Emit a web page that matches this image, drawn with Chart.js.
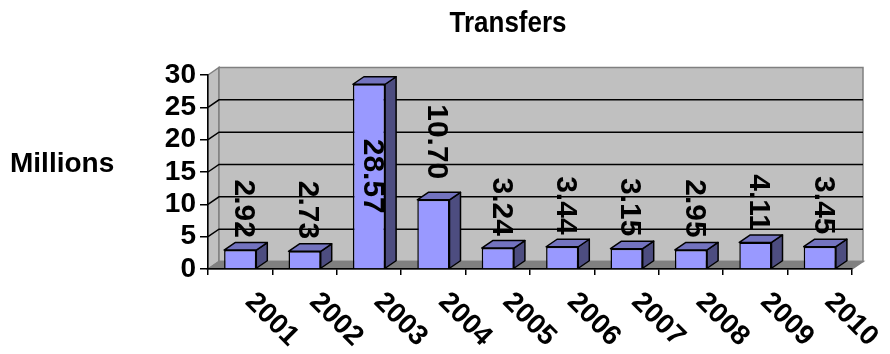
<!DOCTYPE html>
<html>
<head>
<meta charset="utf-8">
<script src="https://cdn.jsdelivr.net/npm/chart.js@4.4.1/dist/chart.umd.min.js"></script>
<style>
  html, body { margin: 0; padding: 0; background: #fff; }
  #wrap { width: 890px; height: 354px; }
</style>
</head>
<body>
<div id="wrap"><canvas id="chart"></canvas></div>
<script>
const years = ['2001', '2002', '2003', '2004', '2005', '2006', '2007', '2008', '2009', '2010'];
const transfers = [2.92, 2.73, 28.57, 10.70, 3.24, 3.44, 3.15, 2.95, 4.11, 3.45];
const yTicks = [0, 5, 10, 15, 20, 25, 30];

const FONT = "'Liberation Sans', Arial, sans-serif";
// depth offset of the 3D box
const DX = 11, DY = -7.5;

const box3d = {
  id: 'box3d',
  beforeDraw(chart) {
    const { ctx, chartArea: a, scales: { y } } = chart;
    ctx.save();
    ctx.lineJoin = 'miter';
    // left wall
    ctx.fillStyle = '#c0c0c0';
    ctx.strokeStyle = '#808080';
    ctx.lineWidth = 1.5;
    ctx.beginPath();
    ctx.moveTo(a.left, a.top);
    ctx.lineTo(a.left + DX, a.top + DY);
    ctx.lineTo(a.left + DX, a.bottom + DY);
    ctx.lineTo(a.left, a.bottom);
    ctx.closePath();
    ctx.fill(); ctx.stroke();
    // back wall
    ctx.beginPath();
    ctx.rect(a.left + DX, a.top + DY, a.right - a.left, a.bottom - a.top);
    ctx.fill(); ctx.stroke();
    // floor
    ctx.fillStyle = '#808080';
    ctx.beginPath();
    ctx.moveTo(a.left, a.bottom);
    ctx.lineTo(a.left + DX, a.bottom + DY);
    ctx.lineTo(a.right + DX, a.bottom + DY);
    ctx.lineTo(a.right, a.bottom);
    ctx.closePath();
    ctx.fill(); ctx.stroke();
    // gridlines
    ctx.strokeStyle = '#000';
    ctx.lineWidth = 1.5;
    yTicks.slice(1, -1).forEach(v => {
      const py = y.getPixelForValue(v);
      ctx.beginPath();
      ctx.moveTo(a.left, py);
      ctx.lineTo(a.left + DX, py + DY);
      ctx.lineTo(a.right + DX, py + DY);
      ctx.stroke();
    });
    // title (a bit taller than wide, like the original) and axis title
    ctx.fillStyle = '#000';
    ctx.textBaseline = 'alphabetic';
    ctx.textAlign = 'center';
    ctx.font = 'bold 26px ' + FONT;
    ctx.save();
    ctx.translate(508, 32);
    ctx.scale(1, 1.15);
    ctx.fillText('Transfers', 0, 0);
    ctx.restore();
    ctx.textAlign = 'left';
    ctx.font = 'bold 28px ' + FONT;
    ctx.fillText('Millions', 10, 172);
    ctx.restore();
  },
  afterDatasetsDraw(chart) {
    const { ctx, chartArea: a } = chart;
    const bars = chart.getDatasetMeta(0).data;
    ctx.save();
    ctx.lineWidth = 1.5;
    ctx.strokeStyle = '#000';
    ctx.lineJoin = 'round';
    bars.forEach(b => {
      const l = b.x - b.width / 2, r = b.x + b.width / 2;
      // side
      ctx.fillStyle = '#4d4d80';
      ctx.beginPath();
      ctx.moveTo(r, b.y);
      ctx.lineTo(r + DX, b.y + DY);
      ctx.lineTo(r + DX, b.base + DY);
      ctx.lineTo(r, b.base);
      ctx.closePath();
      ctx.fill(); ctx.stroke();
      // top
      ctx.fillStyle = '#7373bf';
      ctx.beginPath();
      ctx.moveTo(l, b.y);
      ctx.lineTo(l + DX, b.y + DY);
      ctx.lineTo(r + DX, b.y + DY);
      ctx.lineTo(r, b.y);
      ctx.closePath();
      ctx.fill(); ctx.stroke();
    });
    // value labels, rotated
    ctx.fillStyle = '#000';
    ctx.font = 'bold 30px ' + FONT;
    ctx.textAlign = 'center';
    ctx.textBaseline = 'middle';
    bars.forEach((b, i) => {
      const txt = transfers[i].toFixed(2);
      const len = ctx.measureText(txt).width;
      let end = b.y + DY - 3 - (len - 55) / 2;
      let cy = end - len / 2;
      if (end - len < a.top - 10) cy = (b.y + b.base) / 2;
      ctx.save();
      ctx.translate(b.x + 5, cy);
      ctx.rotate(Math.PI / 2);
      ctx.fillText(txt, 0, 2);
      ctx.restore();
    });
    // category labels, slanted downwards
    const x = chart.scales.x;
    ctx.font = 'bold 28px ' + FONT;
    ctx.textAlign = 'left';
    ctx.textBaseline = 'alphabetic';
    years.forEach((yr, i) => {
      ctx.save();
      ctx.translate(x.getPixelForValue(i) + 4, a.bottom + 34);
      ctx.rotate(Math.PI / 4);
      ctx.fillText(yr, 0, 0);
      ctx.restore();
    });
    ctx.restore();
  }
};

new Chart(document.getElementById('chart'), {
  type: 'bar',
  data: {
    labels: years,
    datasets: [{
      label: 'Transfers',
      data: transfers,
      backgroundColor: '#9999ff',
      borderColor: '#000',
      borderWidth: 1.5,
      barPercentage: 0.5,
      categoryPercentage: 1
    }]
  },
  options: {
    responsive: true,
    maintainAspectRatio: false,
    animation: false,
    layout: { padding: { left: 0, right: 38, top: 75, bottom: 0 } },
    plugins: {
      legend: { display: false },
      title: { display: false },
      tooltip: { enabled: false }
    },
    scales: {
      x: {
        offset: true,
        grid: { offset: true, drawOnChartArea: false, color: '#000', lineWidth: 1.5, tickLength: 6 },
        border: { color: '#000', width: 1.5 },
        ticks: { display: false },
        afterFit: s => { s.height = 85; }
      },
      y: {
        min: 0,
        max: 30,
        afterBuildTicks: s => { s.ticks = yTicks.map(v => ({ value: v })); },
        grid: { drawOnChartArea: false, color: '#000', lineWidth: 1.5, tickLength: 8 },
        border: { color: '#000', width: 1.5 },
        ticks: { color: '#000', padding: 4, autoSkip: false, font: { family: FONT, size: 28, weight: 'bold' } },
        afterFit: s => { s.width = 208; }
      }
    }
  },
  plugins: [box3d]
});
</script>
</body>
</html>
